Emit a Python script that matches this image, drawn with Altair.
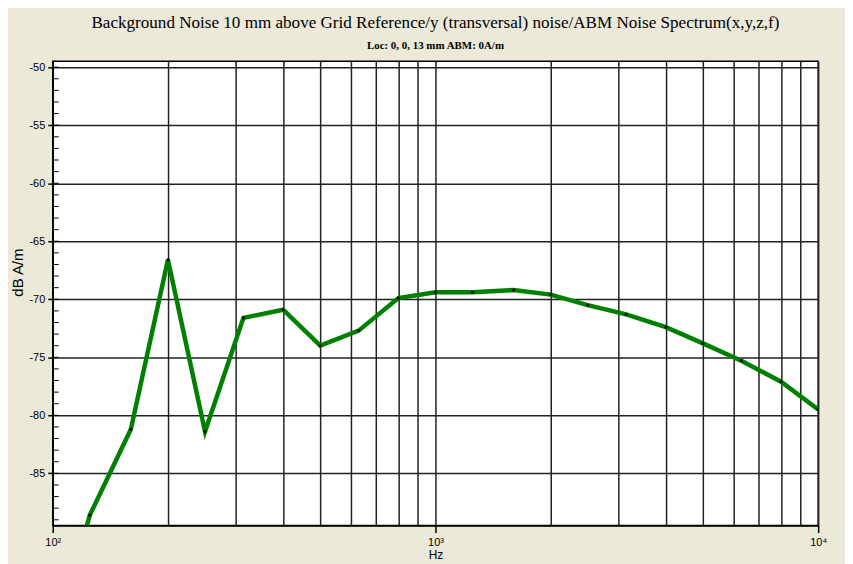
import altair as alt
import pandas as pd

# 1/3-octave band centre frequencies (Hz) and measured level (dB A/m)
freq = [100, 125, 160, 200, 250, 315, 400, 500, 630, 800, 1000, 1250, 1600,
        2000, 2500, 3150, 4000, 5000, 6300, 8000, 10000]
level = [-100.0, -88.6, -81.2, -66.6, -81.4, -71.6, -70.9, -74.0, -72.7, -69.9,
         -69.4, -69.4, -69.2, -69.6, -70.5, -71.3, -72.4, -73.8, -75.3, -77.1, -79.5]

x_grid = [100, 200, 300, 400, 500, 600, 700, 800, 900,
          1000, 2000, 3000, 4000, 5000, 6000, 7000, 8000, 9000, 10000]
y_major = [-85, -80, -75, -70, -65, -60, -55, -50]
y_minor = list(range(-89, -49))

df = pd.DataFrame({"freq": freq, "level": level})
minor_df = pd.DataFrame({"level": y_minor})

xscale = alt.Scale(type="log", domain=[100, 10000], nice=False)
yscale = alt.Scale(domain=[-89.5, -49.5], nice=False, zero=False)

FONT = "Liberation Sans"

x_axis = alt.Axis(
    values=x_grid,
    grid=True, gridColor="#222222", gridWidth=1.5,
    labelExpr="datum.value == 100 ? '10²' : datum.value == 1000 ? '10³' : datum.value == 10000 ? '10⁴' : ''",
    labelOverlap=False, labelFlush=False,
    tickOpacity={"condition": {"test": "datum.value == 100 || datum.value == 1000 || datum.value == 10000", "value": 1}, "value": 0},
    tickSize=7, tickWidth=1.5, tickColor="black",
    domainColor="black", domainWidth=1.5,
    labelFont=FONT, labelFontSize=11, labelColor="black", labelPadding=4,
    title="Hz", titleFont=FONT, titleFontSize=12, titleFontWeight="normal",
    titleColor="black", titlePadding=2,
)

y_axis = alt.Axis(
    values=y_major,
    grid=True, gridColor="#222222", gridWidth=1.5,
    labelExpr="'' + datum.value",
    tickSize=5, tickWidth=1.5, tickColor="black",
    domainColor="black", domainWidth=1.5,
    labelFont=FONT, labelFontSize=11, labelColor="black", labelPadding=3,
    title="dB A/m", titleFont=FONT, titleFontSize=15, titleFontWeight="normal",
    titleColor="black", titleX=-27, titleY=212,
)

minor = alt.Chart(minor_df).mark_rule(color="black", strokeWidth=1).encode(
    y=alt.Y("level:Q", scale=yscale, axis=y_axis),
    x=alt.value(0),
    x2=alt.value(6),
)

line = alt.Chart(df).mark_line(color="#008000", strokeWidth=4.5, clip=True).encode(
    x=alt.X("freq:Q", scale=xscale, axis=x_axis),
    y=alt.Y("level:Q", scale=yscale, axis=y_axis),
)

dots = alt.Chart(df).mark_circle(color="black", size=10, opacity=1, clip=True).encode(
    x=alt.X("freq:Q", scale=xscale, axis=x_axis),
    y=alt.Y("level:Q", scale=yscale, axis=y_axis),
)

chart = alt.layer(minor, line, dots).properties(
    width=770,
    height=467,
    autosize=alt.AutoSizeParams(type="none"),
    padding={"left": 45, "top": 52, "right": 27, "bottom": 45},
    title=alt.TitleParams(
        text="Background Noise 10 mm above Grid Reference/y (transversal) noise/ABM Noise Spectrum(x,y,z,f)",
        subtitle="Loc: 0, 0, 13 mm ABM: 0A/m",
        font="Liberation Serif", fontSize=17.2, fontWeight="normal", color="black",
        subtitleFont="Liberation Serif", subtitleFontSize=11, subtitleFontWeight="bold",
        subtitleColor="black", anchor="middle", offset=10, subtitlePadding=9,
    ),
).configure(
    background="#ECE9D8",
).configure_view(
    stroke="black", strokeWidth=1.5, fill="white",
)

chart.save("out.html", embed_options={"renderer": "svg", "actions": False})
